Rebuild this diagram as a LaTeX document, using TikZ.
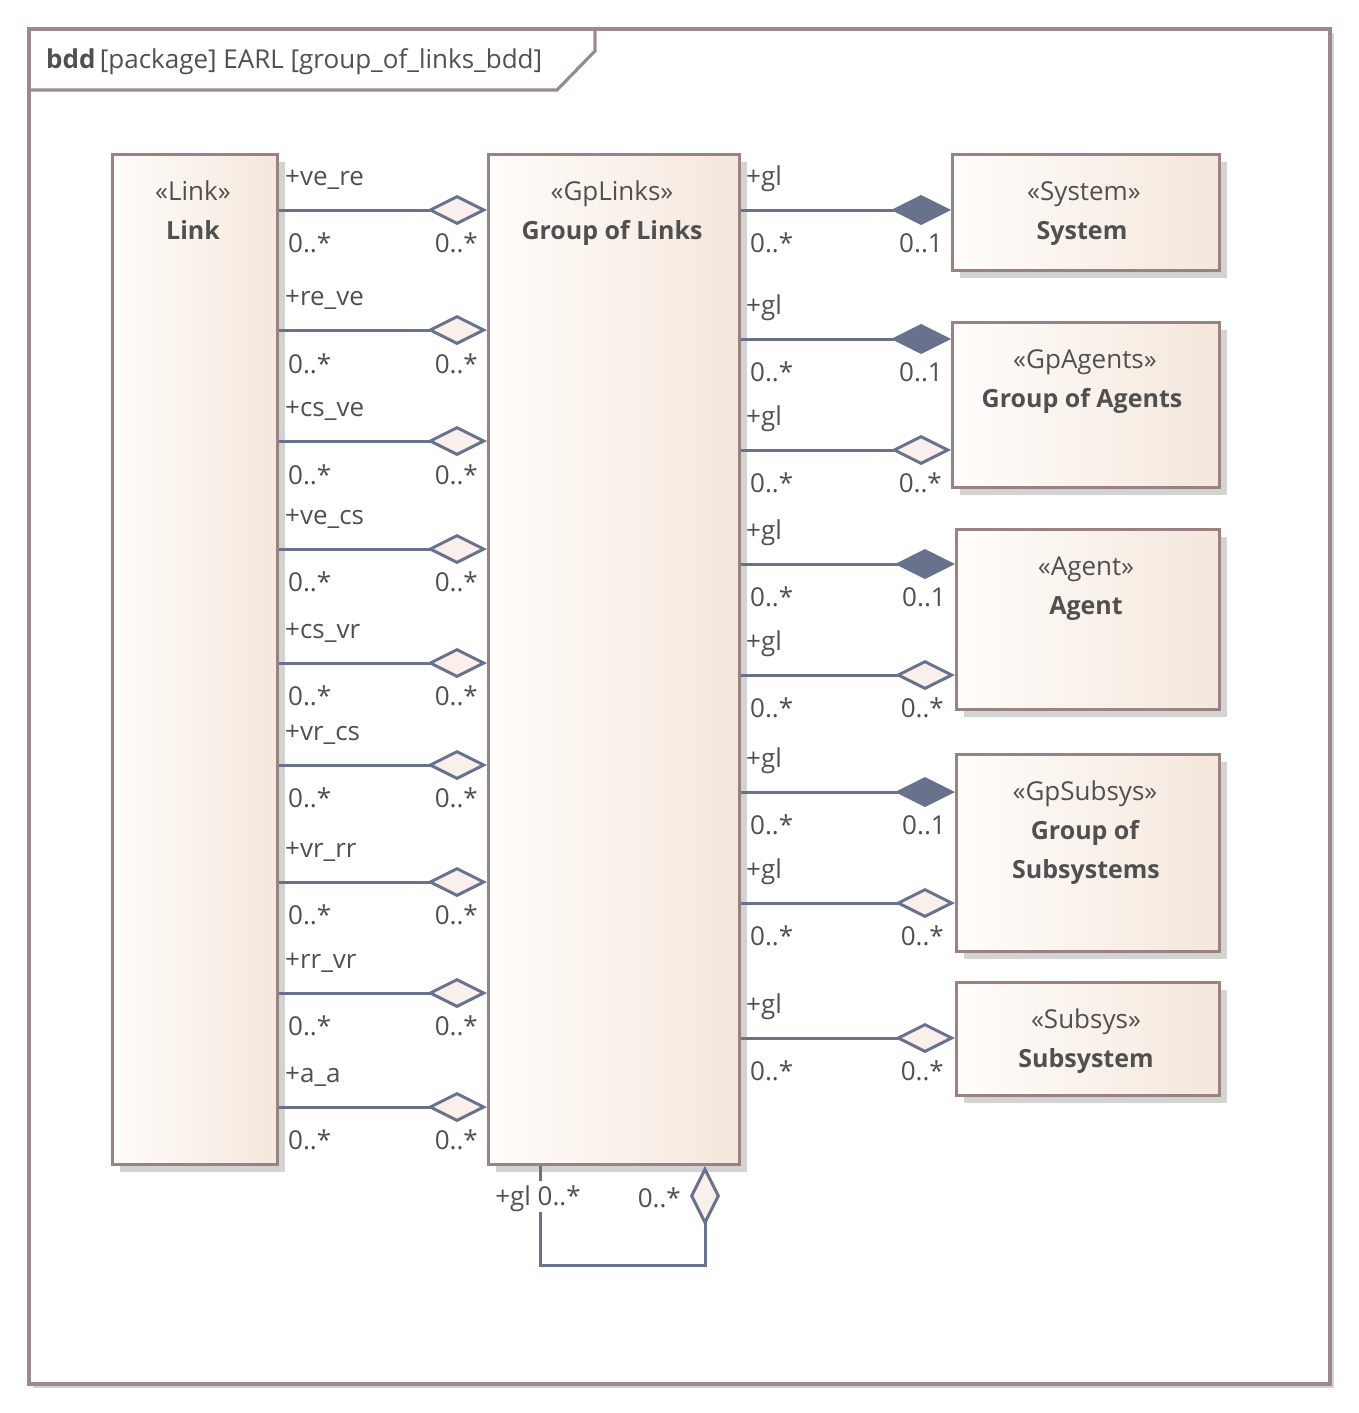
\documentclass[tikz,border=0pt]{standalone}
\usepackage{fontspec}
\setmainfont{Open Sans}
\usetikzlibrary{arrows.meta,shadows}
\definecolor{txt}{HTML}{505050}
\definecolor{lineC}{HTML}{68728C}
\definecolor{boxB}{HTML}{9A8282}
\definecolor{boxL}{HTML}{FFFDFB}
\definecolor{boxR}{HTML}{F4E7DC}
\definecolor{hol}{HTML}{FAEFEB}
\definecolor{shad}{HTML}{D3D3D3}
\definecolor{frameC}{HTML}{9C8A8A}
\newcommand\bfnm[1]{{\fontsize{25}{30}\selectfont\bfseries #1}}
\begin{document}
\begin{tikzpicture}[x=1pt,y=-1pt,
  font=\fontsize{26}{31}\selectfont, text=txt,
  blk/.style={draw=boxB, line width=2.8pt, left color=boxL, right color=boxR,
    anchor=north west, inner sep=0pt,
    drop shadow={shadow xshift=8pt, shadow yshift=-8pt, fill=shad, draw=none, opacity=1}},
  lbl/.style={inner sep=0pt, text height=19pt, text depth=0pt},
  assoc/.style={draw=lineC, line width=3pt},
  hdia/.style={assoc, -{Diamond[length=60pt, width=30pt, fill=hol]}},
  fdia/.style={assoc, -{Diamond[length=60pt, width=30pt, fill=lineC]}}]
\useasboundingbox (0,0) rectangle (1359,1413);
% frame
\draw[shad, line width=2pt] (1333,33) -- (1333,1387) -- (33,1387);
\draw[frameC, line width=3.2pt] (29,29) rectangle (1330,1384);
\draw[frameC, line width=3.2pt] (29,90) -- (557,90) -- (595,51) -- (595,29);
\node[lbl, anchor=west] (title) at (46,59) {\textbf{bdd}\,[package] EARL [group\_of\_links\_bdd]};
% blocks
\node[blk, minimum width=165pt, minimum height=1010pt] (link) at (111,153) {};
\node[blk, minimum width=251pt, minimum height=1010pt] (gpl) at (487,153) {};
\node[blk, minimum width=267pt, minimum height=116pt] (sys) at (951,153) {};
\node[blk, minimum width=267pt, minimum height=165pt] (gpa) at (951,321) {};
\node[blk, minimum width=263pt, minimum height=180pt] (agt) at (955,528) {};
\node[blk, minimum width=263pt, minimum height=197pt] (gps) at (955,753) {};
\node[blk, minimum width=263pt, minimum height=113pt] (sub) at (955,981) {};
% block texts
\node[lbl] (t1a) at (193,191) {«Link»};
\node[lbl] (t1b) at (193,230) {\bfnm{Link}};
\node[lbl] (t2a) at (612,191) {«GpLinks»};
\node[lbl] (t2b) at (612,230) {\bfnm{Group of Links}};
\node[lbl] (t3a) at (1084,191) {«System»};
\node[lbl] (t3b) at (1082,230) {\bfnm{System}};
\node[lbl] (t4a) at (1085,359) {«GpAgents»};
\node[lbl] (t4b) at (1082,398) {\bfnm{Group of Agents}};
\node[lbl] (t5a) at (1086,566) {«Agent»};
\node[lbl] (t5b) at (1086,605) {\bfnm{Agent}};
\node[lbl] (t6a) at (1085,791) {«GpSubsys»};
\node[lbl] (t6b) at (1085,830) {\bfnm{Group of}};
\node[lbl] (t6c) at (1086,869) {\bfnm{Subsystems}};
\node[lbl] (t7a) at (1086,1019) {«Subsys»};
\node[lbl] (t7b) at (1086,1058) {\bfnm{Subsystem}};
% left associations
\foreach \r/\ry/\ly/\my [count=\i] in {+ve\_re/176/210/243, +re\_ve/296/330/364,
  +cs\_ve/407/441/475, +ve\_cs/515/549/582, +cs\_vr/629/663/696, +vr\_cs/731/765/798,
  +vr\_rr/848/882/915, +rr\_vr/959/993/1026, +a\_a/1073/1107/1140} {
  \draw[hdia] (link.east |- 0,\ly) -- (gpl.west |- 0,\ly);
  \node[lbl, anchor=west] (lr\i) at (285,\ry) {\r};
  \node[lbl, anchor=west] (lm\i) at (288,\my) {0..*};
  \node[lbl, anchor=east] (rm\i) at (478,\my) {0..*};
}
% right associations
\foreach \ly/\tg/\st/\m/\mx [count=\i] in {210/sys/fdia/0..1/943, 339/gpa/fdia/0..1/943,
  450/gpa/hdia/0..*/942, 564/agt/fdia/0..1/946, 675/agt/hdia/0..*/944,
  792/gps/fdia/0..1/946, 903/gps/hdia/0..*/944, 1038/sub/hdia/0..*/944} {
  \draw[\st] (gpl.east |- 0,\ly) -- (\tg.west |- 0,\ly);
  \node[lbl, anchor=west] (gr\i) at (746,\ly-34) {+gl};
  \node[lbl, anchor=west] (gm\i) at (750,\ly+33) {0..*};
  \node[lbl, anchor=east] (tm\i) at (\mx,\ly+33) {\m};
}
% self association
\draw[hdia] (gpl.south -| 540,0) -- (540,1265) -- (705,1265) -- (gpl.south -| 705,0);
\node[lbl, fill=white, inner ysep=6pt, inner xsep=1pt] (sl1) at (538,1196) {+gl 0..*};
\node[lbl, anchor=east] (sl2) at (681,1198) {0..*};
\end{tikzpicture}
\end{document}
